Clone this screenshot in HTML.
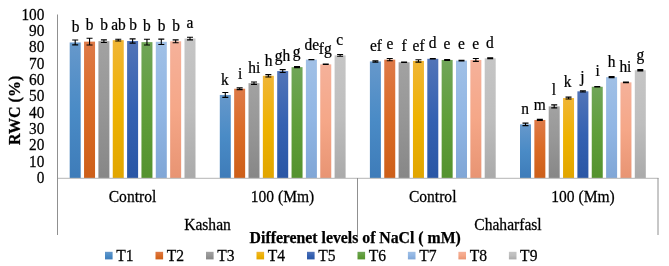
<!DOCTYPE html><html><head><meta charset="utf-8"><style>html,body{margin:0;padding:0;background:#fff}svg{display:block;filter:blur(0.4px)}text{font-family:"Liberation Serif",serif;fill:#000;stroke:#000;stroke-width:0.25px}</style></head><body>
<svg width="669" height="266" viewBox="0 0 669 266">
<rect width="669" height="266" fill="#fff"/><defs>
<linearGradient id="g0" x1="0" x2="0" y1="0" y2="1"><stop offset="0" stop-color="#6698cb"/><stop offset="0.5" stop-color="#4a8bc6"/><stop offset="1" stop-color="#3e7cb9"/></linearGradient>
<linearGradient id="g1" x1="0" x2="0" y1="0" y2="1"><stop offset="0" stop-color="#de7a48"/><stop offset="0.5" stop-color="#da6b26"/><stop offset="1" stop-color="#cd5f19"/></linearGradient>
<linearGradient id="g2" x1="0" x2="0" y1="0" y2="1"><stop offset="0" stop-color="#a2a2a2"/><stop offset="0.5" stop-color="#969696"/><stop offset="1" stop-color="#878787"/></linearGradient>
<linearGradient id="g3" x1="0" x2="0" y1="0" y2="1"><stop offset="0" stop-color="#f0b536"/><stop offset="0.5" stop-color="#eeb200"/><stop offset="1" stop-color="#e1a500"/></linearGradient>
<linearGradient id="g4" x1="0" x2="0" y1="0" y2="1"><stop offset="0" stop-color="#5274b8"/><stop offset="0.5" stop-color="#3561b2"/><stop offset="1" stop-color="#2a56a5"/></linearGradient>
<linearGradient id="g5" x1="0" x2="0" y1="0" y2="1"><stop offset="0" stop-color="#70a558"/><stop offset="0.5" stop-color="#609e3a"/><stop offset="1" stop-color="#54922e"/></linearGradient>
<linearGradient id="g6" x1="0" x2="0" y1="0" y2="1"><stop offset="0" stop-color="#a0c0e6"/><stop offset="0.5" stop-color="#91b6e4"/><stop offset="1" stop-color="#80a6d6"/></linearGradient>
<linearGradient id="g7" x1="0" x2="0" y1="0" y2="1"><stop offset="0" stop-color="#f5b19a"/><stop offset="0.5" stop-color="#f5a788"/><stop offset="1" stop-color="#e89473"/></linearGradient>
<linearGradient id="g8" x1="0" x2="0" y1="0" y2="1"><stop offset="0" stop-color="#c5c5c5"/><stop offset="0.5" stop-color="#bebebe"/><stop offset="1" stop-color="#aaaaaa"/></linearGradient>
</defs>
<rect x="69.70" y="42.46" width="11.0" height="135.54" fill="url(#g0)"/>
<rect x="84.05" y="41.64" width="11.0" height="136.36" fill="url(#g1)"/>
<rect x="98.40" y="41.15" width="11.0" height="136.85" fill="url(#g2)"/>
<rect x="112.75" y="40.17" width="11.0" height="137.83" fill="url(#g3)"/>
<rect x="127.10" y="40.99" width="11.0" height="137.01" fill="url(#g4)"/>
<rect x="141.45" y="42.13" width="11.0" height="135.87" fill="url(#g5)"/>
<rect x="155.80" y="41.80" width="11.0" height="136.20" fill="url(#g6)"/>
<rect x="170.15" y="41.31" width="11.0" height="136.69" fill="url(#g7)"/>
<rect x="184.50" y="38.53" width="11.0" height="139.47" fill="url(#g8)"/>
<rect x="219.80" y="94.94" width="11.0" height="83.06" fill="url(#g0)"/>
<rect x="234.15" y="88.73" width="11.0" height="89.27" fill="url(#g1)"/>
<rect x="248.50" y="83.17" width="11.0" height="94.83" fill="url(#g2)"/>
<rect x="262.85" y="75.81" width="11.0" height="102.19" fill="url(#g3)"/>
<rect x="277.20" y="71.07" width="11.0" height="106.93" fill="url(#g4)"/>
<rect x="291.55" y="67.15" width="11.0" height="110.85" fill="url(#g5)"/>
<rect x="305.90" y="59.63" width="11.0" height="118.37" fill="url(#g6)"/>
<rect x="320.25" y="64.37" width="11.0" height="113.63" fill="url(#g7)"/>
<rect x="334.60" y="55.38" width="11.0" height="122.62" fill="url(#g8)"/>
<rect x="369.90" y="61.42" width="11.0" height="116.58" fill="url(#g0)"/>
<rect x="384.25" y="59.63" width="11.0" height="118.37" fill="url(#g1)"/>
<rect x="398.60" y="62.24" width="11.0" height="115.76" fill="url(#g2)"/>
<rect x="412.95" y="60.93" width="11.0" height="117.07" fill="url(#g3)"/>
<rect x="427.30" y="58.81" width="11.0" height="119.19" fill="url(#g4)"/>
<rect x="441.65" y="59.95" width="11.0" height="118.05" fill="url(#g5)"/>
<rect x="456.00" y="60.61" width="11.0" height="117.39" fill="url(#g6)"/>
<rect x="470.35" y="59.95" width="11.0" height="118.05" fill="url(#g7)"/>
<rect x="484.70" y="58.32" width="11.0" height="119.68" fill="url(#g8)"/>
<rect x="520.00" y="124.37" width="11.0" height="53.63" fill="url(#g0)"/>
<rect x="534.35" y="119.96" width="11.0" height="58.04" fill="url(#g1)"/>
<rect x="548.70" y="106.39" width="11.0" height="71.61" fill="url(#g2)"/>
<rect x="563.05" y="98.05" width="11.0" height="79.95" fill="url(#g3)"/>
<rect x="577.40" y="91.34" width="11.0" height="86.66" fill="url(#g4)"/>
<rect x="591.75" y="86.77" width="11.0" height="91.23" fill="url(#g5)"/>
<rect x="606.10" y="77.12" width="11.0" height="100.88" fill="url(#g6)"/>
<rect x="620.45" y="82.35" width="11.0" height="95.65" fill="url(#g7)"/>
<rect x="634.80" y="70.25" width="11.0" height="107.75" fill="url(#g8)"/>
<line x1="57" y1="178.3" x2="658.5" y2="178.3" stroke="#b4b4b4" stroke-width="1"/>
<g stroke="#909090" stroke-width="1" fill="none">
<line x1="57.5" y1="14.5" x2="57.5" y2="235"/>
<line x1="357.5" y1="178" x2="357.5" y2="235"/>
<line x1="658" y1="178" x2="658" y2="235"/>
</g>
<g stroke="#000" stroke-width="1.1" fill="none">
<path d="M75.20 40.01V44.91M72.20 40.01H78.20M72.20 44.91H78.20"/>
<path d="M89.55 38.21V45.07M86.55 38.21H92.55M86.55 45.07H92.55"/>
<path d="M103.90 39.84V42.46M100.90 39.84H106.90M100.90 42.46H106.90"/>
<path d="M118.25 39.27V41.07M115.25 39.27H121.25M115.25 41.07H121.25"/>
<path d="M132.60 38.86V43.11M129.60 38.86H135.60M129.60 43.11H135.60"/>
<path d="M146.95 39.19V45.07M143.95 39.19H149.95M143.95 45.07H149.95"/>
<path d="M161.30 39.11V44.50M158.30 39.11H164.30M158.30 44.50H164.30"/>
<path d="M175.65 39.84V42.79M172.65 39.84H178.65M172.65 42.79H178.65"/>
<path d="M190.00 37.23V39.84M187.00 37.23H193.00M187.00 39.84H193.00"/>
<path d="M225.30 92.49V97.39M222.30 92.49H228.30M222.30 97.39H228.30"/>
<path d="M239.65 87.83V89.63M236.65 87.83H242.65M236.65 89.63H242.65"/>
<path d="M254.00 81.94V84.40M251.00 81.94H257.00M251.00 84.40H257.00"/>
<path d="M268.35 74.59V77.04M265.35 74.59H271.35M265.35 77.04H271.35"/>
<path d="M282.70 69.60V72.54M279.70 69.60H285.70M279.70 72.54H285.70"/>
<path d="M297.05 66.66V67.64M294.05 66.66H300.05M294.05 67.64H300.05"/>
<path d="M311.40 59.43V59.82M308.40 59.43H314.40M308.40 59.82H314.40"/>
<path d="M325.75 64.17V64.56M322.75 64.17H328.75M322.75 64.56H328.75"/>
<path d="M340.10 54.56V56.19M337.10 54.56H343.10M337.10 56.19H343.10"/>
<path d="M375.40 60.77V62.08M372.40 60.77H378.40M372.40 62.08H378.40"/>
<path d="M389.75 58.56V60.69M386.75 58.56H392.75M386.75 60.69H392.75"/>
<path d="M404.10 62.00V62.49M401.10 62.00H407.10M401.10 62.49H407.10"/>
<path d="M418.45 59.79V62.08M415.45 59.79H421.45M415.45 62.08H421.45"/>
<path d="M432.80 58.61V59.00M429.80 58.61H435.80M429.80 59.00H435.80"/>
<path d="M447.15 59.54V60.36M444.15 59.54H450.15M444.15 60.36H450.15"/>
<path d="M461.50 60.36V60.85M458.50 60.36H464.50M458.50 60.85H464.50"/>
<path d="M475.85 58.56V61.34M472.85 58.56H478.85M472.85 61.34H478.85"/>
<path d="M490.20 57.83V58.81M487.20 57.83H493.20M487.20 58.81H493.20"/>
<path d="M525.50 123.15V125.60M522.50 123.15H528.50M522.50 125.60H528.50"/>
<path d="M539.85 119.39V120.53M536.85 119.39H542.85M536.85 120.53H542.85"/>
<path d="M554.20 104.92V107.86M551.20 104.92H557.20M551.20 107.86H557.20"/>
<path d="M568.55 97.15V98.95M565.55 97.15H571.55M565.55 98.95H571.55"/>
<path d="M582.90 90.69V92.00M579.90 90.69H585.90M579.90 92.00H585.90"/>
<path d="M597.25 86.52V87.01M594.25 86.52H600.25M594.25 87.01H600.25"/>
<path d="M611.60 76.63V77.61M608.60 76.63H614.60M608.60 77.61H614.60"/>
<path d="M625.95 82.11V82.60M622.95 82.11H628.95M622.95 82.60H628.95"/>
<path d="M640.30 69.60V70.91M637.30 69.60H643.30M637.30 70.91H643.30"/>
</g>
<text transform="translate(75.50,31.80) scale(0.925,1)" font-size="16.7" text-anchor="middle">b</text>
<text transform="translate(89.50,30.30) scale(0.925,1)" font-size="16.7" text-anchor="middle">b</text>
<text transform="translate(104.00,30.30) scale(0.925,1)" font-size="16.7" text-anchor="middle">b</text>
<text transform="translate(118.50,29.90) scale(0.925,1)" font-size="16.7" text-anchor="middle">ab</text>
<text transform="translate(133.00,29.90) scale(0.925,1)" font-size="16.7" text-anchor="middle">b</text>
<text transform="translate(146.90,31.00) scale(0.925,1)" font-size="16.7" text-anchor="middle">b</text>
<text transform="translate(161.50,31.20) scale(0.925,1)" font-size="16.7" text-anchor="middle">b</text>
<text transform="translate(176.00,30.80) scale(0.925,1)" font-size="16.7" text-anchor="middle">b</text>
<text transform="translate(190.00,27.80) scale(0.925,1)" font-size="16.7" text-anchor="middle">a</text>
<text transform="translate(224.80,85.00) scale(0.925,1)" font-size="16.7" text-anchor="middle">k</text>
<text transform="translate(240.10,78.80) scale(0.925,1)" font-size="16.7" text-anchor="middle">i</text>
<text transform="translate(254.20,72.80) scale(0.925,1)" font-size="16.7" text-anchor="middle">hi</text>
<text transform="translate(268.70,65.50) scale(0.925,1)" font-size="16.7" text-anchor="middle">h</text>
<text transform="translate(282.50,60.50) scale(0.925,1)" font-size="16.7" text-anchor="middle">gh</text>
<text transform="translate(296.50,57.30) scale(0.925,1)" font-size="16.7" text-anchor="middle">g</text>
<text transform="translate(311.80,49.60) scale(0.925,1)" font-size="16.7" text-anchor="middle">de</text>
<text transform="translate(325.30,53.90) scale(0.925,1)" font-size="16.7" text-anchor="middle">fg</text>
<text transform="translate(339.70,44.90) scale(0.925,1)" font-size="16.7" text-anchor="middle">c</text>
<text transform="translate(376.00,50.60) scale(0.925,1)" font-size="16.7" text-anchor="middle">ef</text>
<text transform="translate(390.00,49.10) scale(0.925,1)" font-size="16.7" text-anchor="middle">e</text>
<text transform="translate(404.00,51.30) scale(0.925,1)" font-size="16.7" text-anchor="middle">f</text>
<text transform="translate(418.60,50.60) scale(0.925,1)" font-size="16.7" text-anchor="middle">ef</text>
<text transform="translate(432.70,47.50) scale(0.925,1)" font-size="16.7" text-anchor="middle">d</text>
<text transform="translate(446.80,48.70) scale(0.925,1)" font-size="16.7" text-anchor="middle">e</text>
<text transform="translate(461.50,49.10) scale(0.925,1)" font-size="16.7" text-anchor="middle">e</text>
<text transform="translate(475.70,48.70) scale(0.925,1)" font-size="16.7" text-anchor="middle">e</text>
<text transform="translate(489.90,47.50) scale(0.925,1)" font-size="16.7" text-anchor="middle">d</text>
<text transform="translate(525.00,113.60) scale(0.925,1)" font-size="16.7" text-anchor="middle">n</text>
<text transform="translate(539.80,109.80) scale(0.925,1)" font-size="16.7" text-anchor="middle">m</text>
<text transform="translate(554.00,94.80) scale(0.925,1)" font-size="16.7" text-anchor="middle">l</text>
<text transform="translate(567.50,87.30) scale(0.925,1)" font-size="16.7" text-anchor="middle">k</text>
<text transform="translate(582.50,81.70) scale(0.925,1)" font-size="16.7" text-anchor="middle">j</text>
<text transform="translate(597.60,76.00) scale(0.925,1)" font-size="16.7" text-anchor="middle">i</text>
<text transform="translate(611.50,66.60) scale(0.925,1)" font-size="16.7" text-anchor="middle">h</text>
<text transform="translate(625.40,72.30) scale(0.925,1)" font-size="16.7" text-anchor="middle">hi</text>
<text transform="translate(640.30,60.10) scale(0.925,1)" font-size="16.7" text-anchor="middle">g</text>
<text transform="translate(44.40,19.55) scale(0.945,1)" font-size="16.2" text-anchor="end">100</text>
<text transform="translate(44.40,35.90) scale(0.945,1)" font-size="16.2" text-anchor="end">90</text>
<text transform="translate(44.40,52.25) scale(0.945,1)" font-size="16.2" text-anchor="end">80</text>
<text transform="translate(44.40,68.60) scale(0.945,1)" font-size="16.2" text-anchor="end">70</text>
<text transform="translate(44.40,84.95) scale(0.945,1)" font-size="16.2" text-anchor="end">60</text>
<text transform="translate(44.40,101.30) scale(0.945,1)" font-size="16.2" text-anchor="end">50</text>
<text transform="translate(44.40,117.65) scale(0.945,1)" font-size="16.2" text-anchor="end">40</text>
<text transform="translate(44.40,134.00) scale(0.945,1)" font-size="16.2" text-anchor="end">30</text>
<text transform="translate(44.40,150.35) scale(0.945,1)" font-size="16.2" text-anchor="end">20</text>
<text transform="translate(44.40,166.70) scale(0.945,1)" font-size="16.2" text-anchor="end">10</text>
<text transform="translate(44.40,183.05) scale(0.945,1)" font-size="16.2" text-anchor="end">0</text>
<text transform="translate(20.1,110.4) rotate(-90)" font-size="16" font-weight="bold" text-anchor="middle">RWC (%)</text>
<text transform="translate(132.50,202.00) scale(0.985,1)" font-size="15.8" text-anchor="middle">Control</text>
<text transform="translate(282.50,202.00) scale(0.985,1)" font-size="15.8" text-anchor="middle">100 (Mm)</text>
<text transform="translate(432.70,202.00) scale(0.985,1)" font-size="15.8" text-anchor="middle">Control</text>
<text transform="translate(583.00,202.00) scale(0.985,1)" font-size="15.8" text-anchor="middle">100 (Mm)</text>
<text transform="translate(207.50,229.80) scale(0.985,1)" font-size="15.8" text-anchor="middle">Kashan</text>
<text transform="translate(508.00,229.80) scale(0.985,1)" font-size="15.8" text-anchor="middle">Chaharfasl</text>
<text x="355.2" y="242.7" font-size="15.78" font-weight="bold" text-anchor="middle">Differenet levels of NaCl ( mM)</text>
<rect x="105.0" y="251.8" width="7.6" height="7.6" fill="url(#g0)"/>
<text transform="translate(116.20,261.00) scale(0.975,1)" font-size="16" text-anchor="start">T1</text>
<rect x="155.5" y="251.8" width="7.6" height="7.6" fill="url(#g1)"/>
<text transform="translate(166.69,261.00) scale(0.975,1)" font-size="16" text-anchor="start">T2</text>
<rect x="206.0" y="251.8" width="7.6" height="7.6" fill="url(#g2)"/>
<text transform="translate(217.18,261.00) scale(0.975,1)" font-size="16" text-anchor="start">T3</text>
<rect x="256.5" y="251.8" width="7.6" height="7.6" fill="url(#g3)"/>
<text transform="translate(267.67,261.00) scale(0.975,1)" font-size="16" text-anchor="start">T4</text>
<rect x="307.0" y="251.8" width="7.6" height="7.6" fill="url(#g4)"/>
<text transform="translate(318.16,261.00) scale(0.975,1)" font-size="16" text-anchor="start">T5</text>
<rect x="357.5" y="251.8" width="7.6" height="7.6" fill="url(#g5)"/>
<text transform="translate(368.65,261.00) scale(0.975,1)" font-size="16" text-anchor="start">T6</text>
<rect x="407.9" y="251.8" width="7.6" height="7.6" fill="url(#g6)"/>
<text transform="translate(419.14,261.00) scale(0.975,1)" font-size="16" text-anchor="start">T7</text>
<rect x="458.4" y="251.8" width="7.6" height="7.6" fill="url(#g7)"/>
<text transform="translate(469.63,261.00) scale(0.975,1)" font-size="16" text-anchor="start">T8</text>
<rect x="508.9" y="251.8" width="7.6" height="7.6" fill="url(#g8)"/>
<text transform="translate(520.12,261.00) scale(0.975,1)" font-size="16" text-anchor="start">T9</text>
</svg></body></html>
